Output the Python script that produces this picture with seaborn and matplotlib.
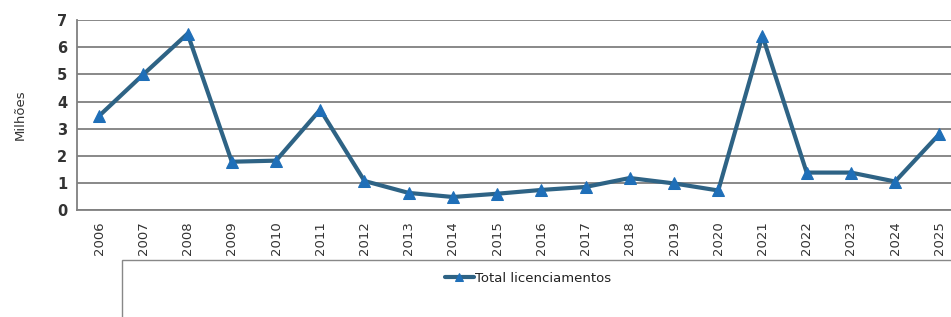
import matplotlib
matplotlib.use("Agg")
import matplotlib.pyplot as plt
from matplotlib.patches import Rectangle
import numpy as np
import pandas as pd
import seaborn as sns

years = ["2006", "2007", "2008", "2009", "2010", "2011", "2012", "2013", "2014", "2015",
         "2016", "2017", "2018", "2019", "2020", "2021", "2022", "2023", "2024", "2025"]
total = [3.47, 5.0, 6.5, 1.78, 1.82, 3.7, 1.07, 0.63, 0.48, 0.6,
         0.74, 0.85, 1.18, 0.98, 0.72, 6.42, 1.38, 1.38, 1.05, 2.8]

df = pd.DataFrame({"pos": np.arange(len(years)), "valor": total})

sns.set_style("white")
plt.rcParams["font.family"] = ["DejaVu Sans"]

fig = plt.figure(figsize=(9.51, 3.17), dpi=100)
ax = fig.add_axes([0.081, 0.3375, 0.93, 0.599])

sns.lineplot(data=df, x="pos", y="valor", ax=ax, color="#2E6385", linewidth=3,
             marker="^", markersize=9, markerfacecolor="#1F6FB8",
             markeredgecolor="#1F6FB8", label="Total licenciamentos", legend=False)

ax.set_xlim(-0.5, len(years) - 0.5)
ax.set_ylim(0, 7)
ax.set_yticks(range(0, 8))
ax.tick_params(axis="y", labelsize=10.5, length=4, width=1, color="#808080", pad=3)
for t in ax.get_yticklabels():
    t.set_fontweight("bold")
    t.set_color("#333333")

# ticks at category borders, labels at the centres
ax.set_xticks(np.arange(len(years) + 1) - 0.5)
ax.set_xticklabels([])
ax.tick_params(axis="x", which="major", length=5, width=1, color="#808080", direction="out")
ax.set_xticks(np.arange(len(years)), minor=True)
ax.set_xticklabels(years, minor=True, rotation=90, fontsize=9.5, color="#333333")
ax.tick_params(axis="x", which="minor", length=0, pad=8)

ax.yaxis.grid(True, color="#7F7F7F", linewidth=1.3)
ax.set_axisbelow(True)
for side in ["top", "right"]:
    ax.spines[side].set_visible(False)
for side in ["left", "bottom"]:
    ax.spines[side].set_color("#808080")
    ax.spines[side].set_linewidth(1.3)

ax.set_xlabel("")
ax.set_ylabel("Milhões", fontsize=9.5, color="#333333", labelpad=22)

# legend box below the chart
fig.patches.append(Rectangle((122 / 951, -0.1), 0.9, 57 / 317 + 0.1,
                             transform=fig.transFigure, fill=False,
                             edgecolor="#888888", linewidth=1))
handles, labels = ax.get_legend_handles_labels()
leg = fig.legend(handles, labels, loc="center", bbox_to_anchor=(0.555, 0.123),
                 frameon=False, handlelength=2.2, handletextpad=0.1, fontsize=9.5,
                 markerscale=0.6)
for t in leg.get_texts():
    t.set_family(["Liberation Sans Narrow", "DejaVu Sans"])
    t.set_color("#222222")

fig.savefig("out.png", dpi=100)
